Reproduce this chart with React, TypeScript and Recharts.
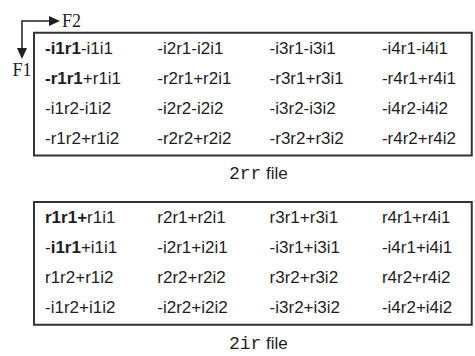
import { ScatterChart, Scatter, XAxis, YAxis, ReferenceArea } from 'recharts';

// cell text; the part between * marks is bold
const rrRows = [
  ['*-i1r1*-i1i1', '-i2r1-i2i1', '-i3r1-i3i1', '-i4r1-i4i1'],
  ['*-r1r1*+r1i1', '-r2r1+r2i1', '-r3r1+r3i1', '-r4r1+r4i1'],
  ['-i1r2-i1i2', '-i2r2-i2i2', '-i3r2-i3i2', '-i4r2-i4i2'],
  ['-r1r2+r1i2', '-r2r2+r2i2', '-r3r2+r3i2', '-r4r2+r4i2'],
];
const irRows = [
  ['*r1r1+*r1i1', 'r2r1+r2i1', 'r3r1+r3i1', 'r4r1+r4i1'],
  ['-*i1r1*+i1i1', '-i2r1+i2i1', '-i3r1+i3i1', '-i4r1+i4i1'],
  ['r1r2+r1i2', 'r2r2+r2i2', 'r3r2+r3i2', 'r4r2+r4i2'],
  ['-i1r2+i1i2', '-i2r2+i2i2', '-i3r2+i3i2', '-i4r2+i4i2'],
];
const tableNames = ['2rr', '2ir'];
const tables = [rrRows, irRows];
const dimLabels = ['F1', 'F2'];

const TABLE_GAP = 5.64;
const INK = '#1e1e1e';

const cells = tables.flatMap((rows, t) =>
  rows.flatMap((row, r) => row.map((text, c) => ({ x: c, y: t * TABLE_GAP + r, text })))
);
const captions = tables.map((rows, t) => ({
  x: 1.9,
  y: t * TABLE_GAP + rows.length + 0.19,
  name: tableNames[t],
}));
const corner = [{ x: -0.205, y: -0.893 }];

function CellText(props: any) {
  const { cx, cy, payload } = props;
  const parts = String(payload.text).split('*');
  return (
    <text x={cx} y={cy} dy="0.35em" fontFamily="'Liberation Sans', Arial, sans-serif" fontSize={17} fill={INK}>
      {parts.map((p, i) => (
        <tspan key={i} fontWeight={i % 2 === 1 ? 'bold' : 'normal'}>{p}</tspan>
      ))}
    </text>
  );
}

function Caption(props: any) {
  const { cx, cy, payload } = props;
  return (
    <text x={cx} y={cy} dy="0.35em" textAnchor="middle" fontSize={17} fill={INK}>
      <tspan fontFamily="'Liberation Mono', 'Courier New', monospace" fontSize={18}>{payload.name}</tspan>
      <tspan fontFamily="'Liberation Sans', Arial, sans-serif"> file</tspan>
    </text>
  );
}

function DimArrows(props: any) {
  const { cx, cy } = props;
  const len = 27;
  const head = 11;
  const serif = "'Liberation Serif', 'Times New Roman', serif";
  return (
    <g>
      <path d={`M${cx},${cy + len} L${cx},${cy} L${cx + len},${cy}`} fill="none" stroke={INK} strokeWidth={1.5} />
      <path d={`M${cx + len},${cy - 5} L${cx + len + head},${cy} L${cx + len},${cy + 5} Z`} fill={INK} />
      <path d={`M${cx - 5},${cy + len} L${cx},${cy + len + head} L${cx + 5},${cy + len} Z`} fill={INK} />
      <text x={cx + len + head + 2} y={cy} dy="0.35em" fontFamily={serif} fontSize={18} fill={INK}>
        {dimLabels[1]}
      </text>
      <text x={cx} y={cy + len + head + 11} dy="0.35em" textAnchor="middle" fontFamily={serif} fontSize={18} fill={INK}>
        {dimLabels[0]}
      </text>
    </g>
  );
}

export default function App() {
  return (
    <div style={{ position: 'absolute', left: 0, top: 0, background: '#fff' }}>
      <ScatterChart width={475} height={356} margin={{ top: 0, right: 0, bottom: 0, left: 0 }}>
        <XAxis type="number" dataKey="x" domain={[-0.4007, 3.829]} hide allowDataOverflow />
        <YAxis type="number" dataKey="y" domain={[-1.593, 10.273]} reversed hide allowDataOverflow />
        {tables.map((rows, t) => (
          <ReferenceArea
            key={t}
            x1={-0.098}
            x2={3.8}
            y1={t * TABLE_GAP - 0.5}
            y2={t * TABLE_GAP + rows.length - 1 + 0.59}
            fill="none"
            fillOpacity={0}
            stroke="#333"
            strokeWidth={2}
            ifOverflow="visible"
          />
        ))}
        <Scatter data={cells} shape={CellText} isAnimationActive={false} />
        <Scatter data={captions} shape={Caption} isAnimationActive={false} />
        <Scatter data={corner} shape={DimArrows} isAnimationActive={false} />
      </ScatterChart>
    </div>
  );
}
